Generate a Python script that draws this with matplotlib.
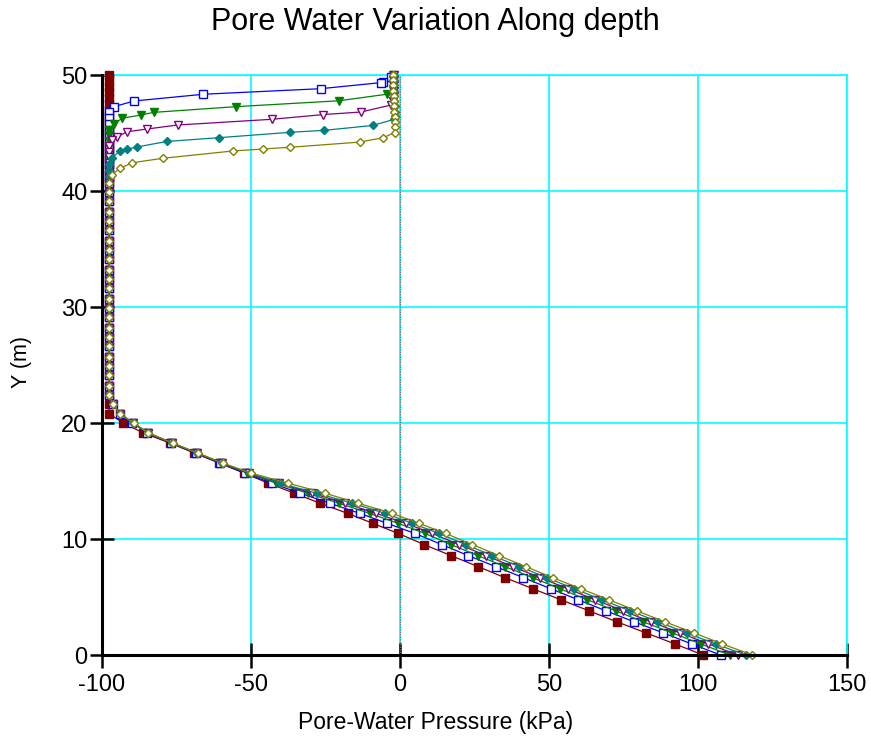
import matplotlib
matplotlib.use("Agg")
import matplotlib.pyplot as plt

plt.rcParams['font.family'] = ['Liberation Sans', 'DejaVu Sans']

# Nodes in the saturated lower zone (m), shared by every time step
y_lower = [0.0, 0.95, 1.90, 2.86, 3.81, 4.76, 5.71, 6.67, 7.62, 8.57, 9.52, 10.48,
           11.35, 12.21, 13.08, 13.95, 14.81, 15.68, 16.54, 17.41, 18.27, 19.14,
           20.0, 20.8, 21.6]

red_lower = [101.7, 92.3, 82.6, 72.8, 63.4, 54.0, 44.6, 35.2, 26.2, 17.1, 8.1, -0.6,
             -9.1, -17.6, -26.8, -35.5, -44.2, -52.3, -60.6, -69.0, -77.2, -86.1,
             -92.9, -97.6, -97.8]
blue_lower = [107.6, 97.9, 88.4, 78.6, 69.1, 59.8, 50.6, 41.4, 32.1, 22.9, 14.0, 5.0,
              -4.3, -13.5, -23.5, -33.5, -43.0, -52.0, -60.3, -68.6, -76.8, -84.8,
              -89.8, -94.0, -96.2]
green_lower = [110.7, 101.0, 91.4, 81.6, 72.4, 62.9, 53.7, 44.5, 35.2, 26.1, 17.1, 8.4,
               -0.6, -10.2, -20.5, -31.0, -41.5, -51.2, -60.0, -68.4, -76.6, -84.6,
               -89.6, -94.0, -96.2]
purple_lower = [113.3, 103.5, 94.0, 84.2, 74.9, 65.4, 56.3, 47.0, 37.8, 28.9, 19.8, 10.8,
                1.9, -8.0, -18.5, -29.5, -40.5, -50.8, -59.8, -68.2, -76.5, -84.5,
                -89.5, -94.0, -96.2]
teal_lower = [116.0, 105.9, 96.2, 86.7, 77.2, 67.7, 58.5, 49.2, 40.1, 31.0, 22.0, 13.1,
              4.1, -5.0, -16.0, -28.0, -40.3, -50.5, -59.6, -68.0, -76.4, -84.5,
              -89.5, -94.0, -96.2]
olive_lower = [118.2, 108.2, 98.7, 88.9, 79.4, 70.1, 60.7, 51.2, 42.2, 33.2, 24.3, 15.3,
               6.4, -2.6, -14.0, -25.2, -37.5, -50.0, -59.4, -67.8, -76.2, -84.4,
               -89.4, -94.0, -96.2]

# Unsaturated column where suction sits at its limit (shared by every time step)
col_y = [22.4, 23.2, 24.1, 24.9, 25.7, 26.6, 27.4, 28.2, 29.1, 29.9, 30.7, 31.6,
         32.4, 33.2, 34.1, 34.9, 35.7, 36.6, 37.4, 38.2, 39.1, 39.9, 40.7]
col_x = [-97.7, -97.7, -97.7, -97.7, -97.7, -97.7, -97.7, -97.7, -97.7, -97.7, -97.7, -97.7,
         -97.7, -97.7, -97.7, -97.7, -97.7, -97.7, -97.7, -97.7, -97.7, -97.7, -97.7]

# Upper zone near the surface, listed top-down
red_up_y = [50.0, 49.5, 49.0, 48.5, 48.0, 47.5, 47.0, 46.5, 46.0, 45.5, 45.0, 44.5,
            44.0, 43.5, 43.0, 42.5, 42.0, 41.5, 41.1]
red_up_x = [-97.6, -97.6, -97.6, -97.6, -97.6, -97.6, -97.6, -97.6, -97.6, -97.6, -97.6, -97.6,
            -97.6, -97.6, -97.6, -97.6, -97.6, -97.6, -97.6]

blue_up_y = [49.85, 49.42, 49.34, 48.82, 48.34, 47.76, 47.27, 46.8, 46.3, 45.8, 45.3, 44.8,
             44.3, 43.8, 43.3, 42.8, 42.3, 41.8, 41.3]
blue_up_x = [-3.0, -5.8, -6.5, -26.6, -66.0, -89.2, -96.0, -97.5, -97.7, -97.7, -97.7, -97.7,
             -97.7, -97.7, -97.7, -97.7, -97.7, -97.7, -97.7]

green_up_y = [50.0, 49.55, 49.1, 48.7, 48.34, 47.78, 47.27, 46.78, 46.55, 46.27, 45.78, 45.3,
              44.8, 44.3, 43.8, 43.3, 42.8, 42.3, 41.8, 41.3]
green_up_x = [-2.2, -2.2, -2.3, -2.5, -4.5, -20.4, -55.1, -82.6, -87.0, -93.2, -96.0, -97.7,
              -97.7, -97.7, -97.7, -97.7, -97.7, -97.7, -97.7, -97.7]

purple_up_y = [50.0, 49.55, 49.1, 48.65, 48.2, 47.8, 47.41, 46.81, 46.59, 46.18, 45.69, 45.34,
               45.11, 44.68, 44.4, 43.9, 43.4, 42.9, 42.4, 41.9, 41.4]
purple_up_x = [-2.0, -2.0, -2.0, -2.0, -2.1, -2.3, -3.0, -13.1, -25.7, -43.1, -74.6, -85.0,
               -91.5, -94.9, -96.7, -97.7, -97.7, -97.7, -97.7, -97.7, -97.7]

teal_up_y = [50.0, 49.55, 49.1, 48.65, 48.2, 47.75, 47.3, 46.85, 46.5, 46.18, 45.65, 45.23,
             45.06, 44.6, 44.27, 43.79, 43.62, 43.47, 42.82, 42.3, 41.8, 41.3]
teal_up_x = [-2.0, -2.0, -1.9, -1.9, -1.9, -1.9, -1.8, -1.8, -1.8, -1.9, -9.2, -25.4,
             -36.8, -60.6, -78.3, -88.4, -91.5, -94.0, -96.7, -97.7, -97.7, -97.7]

olive_up_y = [50.0, 49.55, 49.1, 48.65, 48.2, 47.75, 47.3, 46.85, 46.4, 45.95, 45.5, 45.04,
              44.6, 44.22, 43.77, 43.62, 43.45, 42.82, 42.44, 41.96, 41.38]
olive_up_x = [-2.3, -2.3, -2.2, -2.2, -2.1, -2.0, -1.9, -1.9, -1.8, -1.8, -1.8, -1.7,
              -5.6, -13.3, -36.9, -46.0, -56.1, -79.6, -89.8, -94.0, -96.7]

x_ticks = [-100, -50, 0, 50, 100, 150]
y_ticks = [0, 10, 20, 30, 40, 50]

series = [
    # colour, marker, filled, size, upper x, upper y, lower x
    ('#800000', 's', True, 5.6, red_up_x, red_up_y, red_lower),
    ('#0000FF', 's', False, 5.2, blue_up_x, blue_up_y, blue_lower),
    ('#008000', 'v', True, 6.4, green_up_x, green_up_y, green_lower),
    ('#800080', 'v', False, 6.4, purple_up_x, purple_up_y, purple_lower),
    ('#008080', 'D', True, 4.1, teal_up_x, teal_up_y, teal_lower),
    ('#808000', 'D', False, 4.1, olive_up_x, olive_up_y, olive_lower),
]

fig = plt.figure(figsize=(8.71, 7.44), dpi=100)
ax = fig.add_axes([102 / 871, 1 - 655 / 744, 745 / 871, 580 / 744])

ax.set_xlim(-100, 150)
ax.set_ylim(0, 50)
ax.set_xticks(x_ticks)
ax.set_yticks(y_ticks)
ax.set_xticklabels([str(v) for v in x_ticks])
ax.set_yticklabels([str(v) for v in y_ticks])

ax.grid(True, color='#00FFFF', lw=1.2, zorder=0)
ax.set_axisbelow(True)
ax.axvline(0, color='#707070', lw=0.9, ls=(0, (1, 1)), zorder=1)

for side in ('top', 'right'):
    ax.spines[side].set_color('#00FFFF')
    ax.spines[side].set_linewidth(1.2)
for side in ('left', 'bottom'):
    ax.spines[side].set_color('black')
    ax.spines[side].set_linewidth(2.2)
    ax.spines[side].set_zorder(5)

ax.tick_params(axis='both', direction='inout', color='black', width=1.8,
               labelsize=17, labelcolor='black')
ax.tick_params(axis='x', length=18, pad=5)
ax.tick_params(axis='y', length=17, pad=2)

for zo, (col, mk, filled, ms, ux, uy, lx) in enumerate(series):
    xs = list(ux) + list(reversed(col_x)) + list(reversed(lx))
    ys = list(uy) + list(reversed(col_y)) + list(reversed(y_lower))
    ax.plot(xs, ys, color=col, lw=0.9, marker=mk, ms=ms,
            mfc=col if filled else 'white', mec=col, mew=1.0,
            clip_on=False, zorder=3 + zo * 0.1)

fig.text(0.5, 1 - 22 / 744, 'Pore Water Variation Along depth', ha='center', va='center',
         fontsize=22)
fig.text(0.5, 1 - 722 / 744, 'Pore-Water Pressure (kPa)', ha='center', va='center',
         fontsize=16.5)
fig.text(22 / 871, 1 - 362 / 744, 'Y (m)', ha='center', va='center', rotation=90,
         fontsize=15.5)

fig.savefig('out.png', dpi=100)
